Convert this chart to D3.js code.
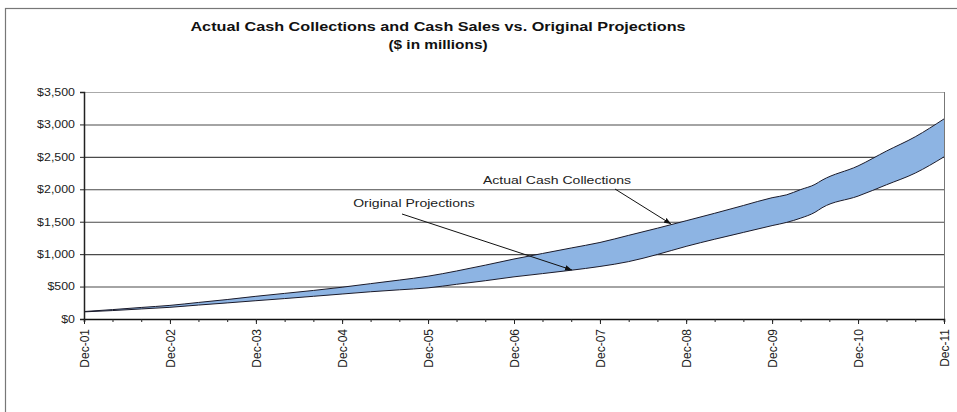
<!DOCTYPE html>
<html>
<head>
<meta charset="utf-8">
<script src="https://cdn.jsdelivr.net/npm/d3@7"></script>
<style>
  body { margin: 0; background: #fff; }
  svg { font-family: "Liberation Sans", Arial, sans-serif; }
</style>
</head>
<body>
<div id="chart"></div>
<script>
// months of the data points (roughly every 4 months, with extra points around mid 2010)
const months = [
  "2001-12", "2002-04", "2002-08", "2002-12", "2003-04", "2003-08", "2003-12",
  "2004-04", "2004-08", "2004-12", "2005-04", "2005-08", "2005-12",
  "2006-04", "2006-08", "2006-12", "2007-04", "2007-08", "2007-12",
  "2008-04", "2008-08", "2008-12", "2009-04", "2009-08", "2009-12",
  "2010-02", "2010-04", "2010-06", "2010-07", "2010-12",
  "2011-04", "2011-08", "2011-12"
];
const actualCollections = [
  115, 145, 178, 210, 255, 300, 350,
  395, 440, 490, 545, 600, 660,
  740, 830, 925, 1010, 1095, 1180,
  1290, 1400, 1515, 1630, 1750, 1870,
  1915, 1995, 2075, 2140, 2360,
  2590, 2810, 3085
];
const originalProjections = [
  110, 130, 155, 180, 215, 248, 282,
  315, 350, 385, 420, 450, 480,
  535, 590, 650, 700, 752, 810,
  885, 995, 1120, 1230, 1335, 1440,
  1490, 1555, 1645, 1715, 1895,
  2070, 2250, 2500
];
const yTicks = [0, 500, 1000, 1500, 2000, 2500, 3000, 3500];
const xTickLabels = ["Dec-01", "Dec-02", "Dec-03", "Dec-04", "Dec-05", "Dec-06",
  "Dec-07", "Dec-08", "Dec-09", "Dec-10", "Dec-11"];

const W = 957, H = 412;
const parse = d3.timeParse("%Y-%m");
const data = months.map((m, i) => ({
  date: parse(m), actual: actualCollections[i], proj: originalProjections[i]
}));

// the original picture is a bit stretched sideways, so text is widened to match
const widen = (sel, k) => sel.each(function () {
  const len = this.getComputedTextLength();
  d3.select(this).attr("textLength", len * k).attr("lengthAdjust", "spacingAndGlyphs");
});

const svg = d3.select("#chart").append("svg")
  .attr("width", W).attr("height", H);

// outer chart frame
svg.append("rect")
  .attr("x", 5.5).attr("y", 8.5)
  .attr("width", 960).attr("height", 420)
  .attr("fill", "none").attr("stroke", "#777").attr("stroke-width", 1.2);

const plotLeft = 84, plotRight = 944, plotTop = 92, plotBottom = 319;

const x = d3.scaleTime()
  .domain([parse("2001-12"), parse("2011-12")])
  .range([plotLeft, plotRight]);
const y = d3.scaleLinear().domain([0, 3500]).range([plotBottom, plotTop]);

// gridlines
svg.append("g").selectAll("line")
  .data(yTicks.filter(d => d > 0))
  .enter().append("line")
  .attr("x1", plotLeft).attr("x2", plotRight)
  .attr("y1", d => y(d) + 0.5).attr("y2", d => y(d) + 0.5)
  .attr("stroke", d => d === 3500 ? "#aaa" : "#4a4a4a")
  .attr("stroke-width", 1.1);

// plot right border
svg.append("line")
  .attr("x1", plotRight + 0.5).attr("x2", plotRight + 0.5)
  .attr("y1", plotTop).attr("y2", plotBottom)
  .attr("stroke", "#777");

// band between the two series
const area = d3.area()
  .curve(d3.curveMonotoneX)
  .x(d => x(d.date))
  .y0(d => y(d.proj))
  .y1(d => y(d.actual));

svg.append("path")
  .datum(data)
  .attr("d", area)
  .attr("fill", "#8db4e3");

const lineA = d3.line().curve(d3.curveMonotoneX).x(d => x(d.date)).y(d => y(d.actual));
const lineP = d3.line().curve(d3.curveMonotoneX).x(d => x(d.date)).y(d => y(d.proj));
[lineA, lineP].forEach(l => {
  svg.append("path").datum(data)
    .attr("d", l)
    .attr("fill", "none")
    .attr("stroke", "#1a1a2a")
    .attr("stroke-width", 1);
});

// y axis
const yAxis = svg.append("g")
  .attr("transform", `translate(${plotLeft},0)`)
  .call(d3.axisLeft(y).tickValues(yTicks).tickSize(4).tickPadding(5)
    .tickFormat(d => "$" + d3.format(",")(d)));
yAxis.select(".domain").attr("stroke", "#222").attr("stroke-width", 1.5);
yAxis.selectAll(".tick line").attr("stroke", "#222");
yAxis.selectAll("text").attr("font-size", 10.5).attr("fill", "#222").call(widen, 1.18);

// x axis: minor ticks every 4 months, labelled ticks each December
const minor = d3.timeMonth.range(parse("2001-12"), parse("2012-01"), 4);
const xMinor = svg.append("g")
  .attr("transform", `translate(0,${plotBottom})`)
  .call(d3.axisBottom(x).tickValues(minor).tickSize(3).tickFormat(""));
xMinor.select(".domain").attr("stroke", "#111").attr("stroke-width", 1.6);
xMinor.selectAll(".tick line").attr("stroke", "#222");

const majors = xTickLabels.map((_, i) => parse((2001 + i) + "-12"));
const xAxis = svg.append("g")
  .attr("transform", `translate(0,${plotBottom})`)
  .call(d3.axisBottom(x).tickValues(majors).tickSize(5)
    .tickFormat((d, i) => xTickLabels[i]));
xAxis.select(".domain").remove();
xAxis.selectAll(".tick line").attr("stroke", "#222");
xAxis.selectAll("text")
  .attr("font-size", 12)
  .attr("fill", "#222")
  .attr("transform", "rotate(-90)")
  .attr("text-anchor", "end")
  .attr("x", -10)
  .attr("y", 0)
  .attr("dy", "0.35em");

// titles
svg.append("text")
  .attr("x", 438).attr("y", 31)
  .attr("text-anchor", "middle")
  .attr("font-size", 13.5).attr("font-weight", "bold").attr("fill", "#111")
  .text("Actual Cash Collections and Cash Sales vs. Original Projections")
  .call(widen, 1.2);
svg.append("text")
  .attr("x", 438).attr("y", 49)
  .attr("text-anchor", "middle")
  .attr("font-size", 13.5).attr("font-weight", "bold").attr("fill", "#111")
  .text("($ in millions)")
  .call(widen, 1.14);

// annotations with arrows
svg.append("defs").append("marker")
  .attr("id", "arrow")
  .attr("viewBox", "0 0 10 10")
  .attr("refX", 10).attr("refY", 5)
  .attr("markerWidth", 7).attr("markerHeight", 7)
  .attr("orient", "auto")
  .append("path").attr("d", "M0,1L10,5L0,9Z").attr("fill", "#111");

const notes = [
  { text: "Actual Cash Collections", tx: 557, ty: 184, from: [615, 189], to: [671, 224] },
  { text: "Original Projections", tx: 414, ty: 207, from: [402, 214], to: [572, 270] }
];
notes.forEach(n => {
  svg.append("text")
    .attr("x", n.tx).attr("y", n.ty)
    .attr("text-anchor", "middle")
    .attr("font-size", 11.5).attr("fill", "#222")
    .text(n.text)
    .call(widen, 1.22);
  svg.append("line")
    .attr("x1", n.from[0]).attr("y1", n.from[1])
    .attr("x2", n.to[0]).attr("y2", n.to[1])
    .attr("stroke", "#111").attr("stroke-width", 1)
    .attr("marker-end", "url(#arrow)");
});
</script>
</body>
</html>
